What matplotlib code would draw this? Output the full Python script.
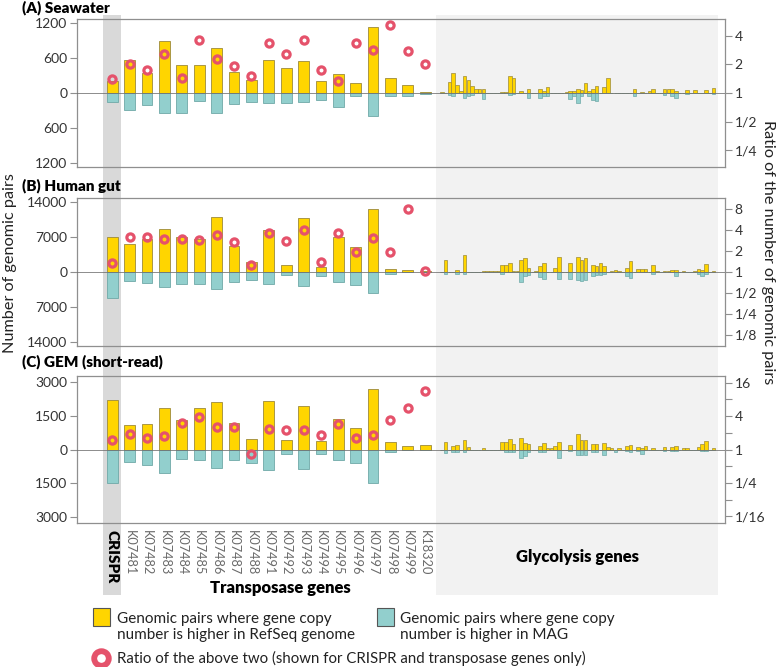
import numpy as np
import matplotlib
matplotlib.use('Agg')
import matplotlib.pyplot as plt
from matplotlib.patches import Rectangle
from matplotlib.lines import Line2D
from matplotlib.ticker import FixedLocator, NullFormatter
from matplotlib.transforms import blended_transform_factory

plt.rcParams['font.family'] = ['Lato', 'DejaVu Sans']

# gene labels (CRISPR + transposase genes)
genes = ['CRISPR', 'K07481', 'K07482', 'K07483', 'K07484', 'K07485', 'K07486',
         'K07487', 'K07488', 'K07491', 'K07492', 'K07493', 'K07494', 'K07495',
         'K07496', 'K07497', 'K07498', 'K07499', 'K18320']

# (A) Seawater
sea_refseq = [209, 560, 340, 883, 475, 475, 770, 362, 215, 560, 424, 543, 209, 322, 170, 1126, 255, 136, 17]
sea_mag = [153, 289, 204, 345, 334, 136, 345, 187, 147, 164, 170, 153, 119, 238, 51, 396, 51, 51, 11]
sea_ratio = [1.40, 2.0, 1.73, 2.6, 1.43, 3.6, 2.3, 1.92, 1.51, 3.4, 2.6, 3.6, 1.73, 1.35, 3.4, 2.83, 5.2, 2.78, 2.0]
sea_gly_refseq = [20, 0, 181, 334, 136, 34, 294, 220, 125, 68, 68, 68,
                  0, 0, 0, 0, 20, 20, 290, 250, 0, 34, 0, 68,
                  5, 0, 68, 34, 108, 0, 5, 0, 0, 11, 34, 34,
                  68, 51, 170, 34, 68, 125, 0, 108, 260, 8, 0, 0,
                  5, 5, 5, 68, 0, 11, 0, 34, 68, 8, 0, 68,
                  68, 68, 34, 0, 0, 57, 0, 45, 0, 0, 57, 0, 80]
sea_gly_mag = [0, 0, 34, 45, 0, 0, 90, 57, 34, 0, 0, 100,
               0, 0, 0, 0, 0, 0, 34, 22, 0, 0, 0, 90,
               0, 0, 90, 57, 57, 0, 0, 0, 0, 0, 100, 57,
               175, 57, 0, 57, 119, 130, 0, 0, 0, 0, 0, 0,
               0, 0, 0, 57, 0, 0, 0, 0, 0, 0, 0, 34,
               0, 57, 90, 0, 0, 22, 0, 0, 0, 0, 0, 0, 22]

# (B) Human gut
gut_refseq = [6867, 5600, 6533, 8600, 7000, 6467, 11000, 5200, 2000, 8400, 1400, 10800, 933, 7000, 5000, 12600, 600, 400, 67]
gut_mag = [5333, 1800, 2200, 3000, 2400, 2467, 3400, 2067, 1733, 2400, 600, 2867, 800, 2000, 2600, 4200, 400, 67, 0]
gut_ratio = [1.32, 3.17, 3.17, 2.9, 2.94, 2.87, 3.35, 2.63, 1.23, 3.62, 2.75, 3.9, 1.36, 3.62, 1.93, 3.07, 1.93, 7.8, 1.03]
gut_gly_refseq = [0, 2386, 0, 0, 265, 0, 3313, 0, 0, 0, 0, 200,
                  200, 200, 200, 200, 1390, 1390, 1720, 200, 200, 2320, 2650, 800,
                  0, 200, 1060, 1720, 0, 0, 800, 2850, 0, 0, 1720, 0,
                  2915, 2386, 2717, 0, 1325, 1060, 1720, 1060, 0, 200, 400, 130,
                  0, 800, 2120, 0, 530, 530, 530, 0, 1325, 100, 0, 200,
                  200, 400, 400, 0, 130, 0, 0, 100, 530, 400, 1520, 0, 200]
gut_gly_mag = [0, 530, 0, 0, 530, 0, 530, 0, 0, 0, 0, 0,
               0, 0, 0, 0, 400, 0, 0, 0, 0, 2120, 800, 660,
               0, 0, 1130, 1460, 0, 0, 0, 1460, 0, 0, 1460, 0,
               1720, 1855, 1720, 0, 930, 660, 660, 530, 0, 0, 0, 0,
               0, 930, 1190, 0, 0, 0, 0, 0, 530, 0, 0, 0,
               0, 0, 930, 0, 0, 0, 0, 0, 400, 800, 530, 0, 0]

# (C) GEM (short-read)
gem_refseq = [2235, 1103, 1132, 1838, 1309, 1853, 2118, 1176, 470, 2191, 441, 1926, 397, 1353, 956, 2721, 338, 162, 206]
gem_mag = [1485, 559, 706, 1059, 426, 470, 809, 470, 588, 912, 191, 868, 191, 456, 588, 1500, 103, 29, 0]
gem_ratio = [1.5, 1.92, 1.59, 1.72, 2.97, 3.84, 2.55, 2.55, 0.82, 2.38, 2.26, 2.2, 1.82, 2.93, 1.63, 1.82, 3.44, 5.7, 11.4]
gem_gly_refseq = [0, 357, 0, 150, 210, 0, 417, 120, 0, 0, 0, 90,
                  0, 0, 0, 0, 327, 357, 476, 268, 0, 536, 298, 268,
                  0, 0, 179, 298, 90, 90, 150, 357, 0, 0, 210, 0,
                  685, 446, 446, 0, 268, 268, 0, 298, 120, 60, 0, 60,
                  0, 150, 210, 0, 120, 90, 150, 0, 60, 0, 0, 120,
                  0, 120, 150, 0, 60, 60, 0, 0, 120, 238, 387, 0, 90]
gem_gly_mag = [0, 150, 0, 90, 90, 0, 90, 0, 0, 0, 0, 0,
               0, 0, 0, 0, 0, 120, 90, 90, 0, 387, 298, 90,
               0, 0, 90, 90, 0, 0, 0, 357, 0, 0, 60, 0,
               238, 238, 238, 0, 90, 90, 0, 238, 0, 0, 90, 0,
               0, 60, 90, 0, 60, 180, 0, 0, 0, 0, 0, 60,
               0, 60, 60, 0, 0, 0, 0, 0, 0, 60, 60, 0, 0]

YELLOW = '#FFD500'
YELLOW_EDGE = '#9c8a3a'
TEAL = '#92CFCD'
TEAL_EDGE = '#6fa9a7'
RED = '#E5526B'
SPINE = '#8f8f8f'

panels = [
    ('(A) Seawater', sea_refseq, sea_mag, sea_ratio, sea_gly_refseq, sea_gly_mag,
     1263, [1200, 600, 0, -600, -1200], 2.59, [4, 2, 1, 1/2, 1/4], []),
    ('(B) Human gut', gut_refseq, gut_mag, gut_ratio, gut_gly_refseq, gut_gly_mag,
     14800, [14000, 7000, 0, -7000, -14000], 3.52, [8, 4, 2, 1, 1/2, 1/4, 1/8], []),
    ('(C) GEM (short-read)', gem_refseq, gem_mag, gem_ratio, gem_gly_refseq, gem_gly_mag,
     3300, [3000, 1500, 0, -1500, -3000], 4.41, [16, 4, 1, 1/4, 1/16], [8, 2, 1/2, 1/8]),
]

# axes boxes in figure fraction
boxes = [[0.0987, 0.7496, 0.8308, 0.2219],
         [0.0987, 0.4817, 0.8308, 0.2219],
         [0.0987, 0.2154, 0.8308, 0.2213]]
title_y = [0.988, 0.721, 0.457]

x_main = np.arange(len(genes))
gly_start = 18.85
gly_pitch = 0.217
n_gly = len(sea_gly_refseq)
x_gly = gly_start + gly_pitch * (np.arange(n_gly) + 0.5)
xlim = (-2.03, 35.24)


def ratio_label(v):
    if v >= 1:
        return str(int(round(v)))
    return '1/%d' % int(round(1 / v))


fig = plt.figure(figsize=(7.8, 6.67), dpi=100)

axes = []
for i, (title, refseq, mag, ratio, g_ref, g_mag, ylim, yticks, rlim, rticks, rminor) in enumerate(panels):
    ax = fig.add_axes(boxes[i])
    ax.set_facecolor('none')
    ax.bar(x_main, refseq, width=0.62, color=YELLOW, edgecolor=YELLOW_EDGE, linewidth=0.6, zorder=2)
    ax.bar(x_main, [-v for v in mag], width=0.62, color=TEAL, edgecolor=TEAL_EDGE, linewidth=0.6, zorder=2)
    ax.bar(x_gly, g_ref, width=gly_pitch * 0.95, color=YELLOW, edgecolor=YELLOW_EDGE, linewidth=0.5, zorder=2)
    ax.bar(x_gly, [-v for v in g_mag], width=gly_pitch * 0.95, color=TEAL, edgecolor=TEAL_EDGE, linewidth=0.5, zorder=2)
    ax.axhline(0, color='#6f6f6f', lw=0.7, zorder=3, alpha=0.8)
    ax.set_xlim(*xlim)
    ax.set_ylim(-ylim, ylim)
    ax.set_yticks(yticks)
    ax.set_yticklabels([str(abs(t)) for t in yticks])
    ax.tick_params(axis='y', length=5, width=0.8, color=SPINE, labelsize=10, labelcolor='#333333', pad=2)
    ax.tick_params(axis='x', length=0)
    for s in ax.spines.values():
        s.set_color(SPINE)
        s.set_linewidth(0.9)

    ax2 = ax.twinx()
    ax2.set_yscale('log', base=2)
    ax2.set_ylim(2 ** -rlim, 2 ** rlim)
    ax2.plot(x_main, ratio, 'o', ms=5.2, mfc='none', mec=RED, mew=2.3, zorder=5)
    ax2.yaxis.set_major_locator(FixedLocator(rticks))
    ax2.set_yticklabels([ratio_label(t) for t in rticks])
    ax2.yaxis.set_minor_locator(FixedLocator(rminor))
    ax2.yaxis.set_minor_formatter(NullFormatter())
    ax2.tick_params(axis='y', which='both', length=5, width=0.8, color=SPINE,
                    labelsize=10, labelcolor='#333333', pad=2)
    for s in ax2.spines.values():
        s.set_visible(False)

    fig.text(0.028, title_y[i], title, fontsize=11, fontweight='heavy', va='center', ha='left')
    axes.append(ax)

for ax in axes[:2]:
    ax.set_xticks([])

ax_c = axes[2]
ax_c.set_xticks(x_main)
ax_c.set_xticklabels(genes, rotation=-90, va='top', ha='center', fontsize=9.2, color='#6a6a6a')
ax_c.tick_params(axis='x', pad=5)
lab0 = ax_c.get_xticklabels()[0]
lab0.set_fontweight('heavy')
lab0.set_color('black')
lab0.set_fontsize(11)

# background bands spanning all panels
trans = blended_transform_factory(ax_c.transData, fig.transFigure)
band_bottom = 1 - 595 / 667
band_top = 1 - 15 / 667
fig.add_artist(Rectangle((-0.53, band_bottom), 1.06, band_top - band_bottom,
                         transform=trans, color='#d9d9d9', zorder=-1, lw=0))
fig.add_artist(Rectangle((18.64, band_bottom), 34.83 - 18.64, band_top - band_bottom,
                         transform=trans, color='#f2f2f2', zorder=-1, lw=0))

fig.text(280 / 780, 1 - 588 / 667, 'Transposase genes', fontsize=12, fontweight='heavy', ha='center', va='center')
fig.text(578 / 780, 1 - 557 / 667, 'Glycolysis genes', fontsize=12, fontweight='heavy', ha='center', va='center')

fig.text(10 / 780, 1 - 263 / 667, 'Number of genomic pairs', rotation=90, fontsize=11.7,
         ha='center', va='center', color='#222222')
fig.text(768 / 780, 1 - 252 / 667, 'Ratio of the number of genomic pairs', rotation=270, fontsize=11.7,
         ha='center', va='center', color='#222222')

# legend
fig.add_artist(Rectangle((93 / 780, 1 - 626 / 667), 17 / 780, 18 / 667, transform=fig.transFigure,
                         facecolor=YELLOW, edgecolor='#555555', lw=0.8))
fig.add_artist(Rectangle((377 / 780, 1 - 626 / 667), 17 / 780, 18 / 667, transform=fig.transFigure,
                         facecolor=TEAL, edgecolor='#555555', lw=0.8))
fig.add_artist(Line2D([101 / 780], [1 - 658 / 667], marker='o', ms=10.5, mfc='white', mec=RED, mew=4.2,
                      transform=fig.transFigure))
fig.text(117 / 780, 1 - 627 / 667, 'Genomic pairs where gene copy\nnumber is higher in RefSeq genome',
         fontsize=11, va='center', ha='left', color='#222222', linespacing=1.2)
fig.text(400 / 780, 1 - 627 / 667, 'Genomic pairs where gene copy\nnumber is higher in MAG',
         fontsize=11, va='center', ha='left', color='#222222', linespacing=1.2)
fig.text(117 / 780, 1 - 658 / 667, 'Ratio of the above two (shown for CRISPR and transposase genes only)',
         fontsize=10.8, va='center', ha='left', color='#222222')

fig.savefig('out.png', dpi=100)
